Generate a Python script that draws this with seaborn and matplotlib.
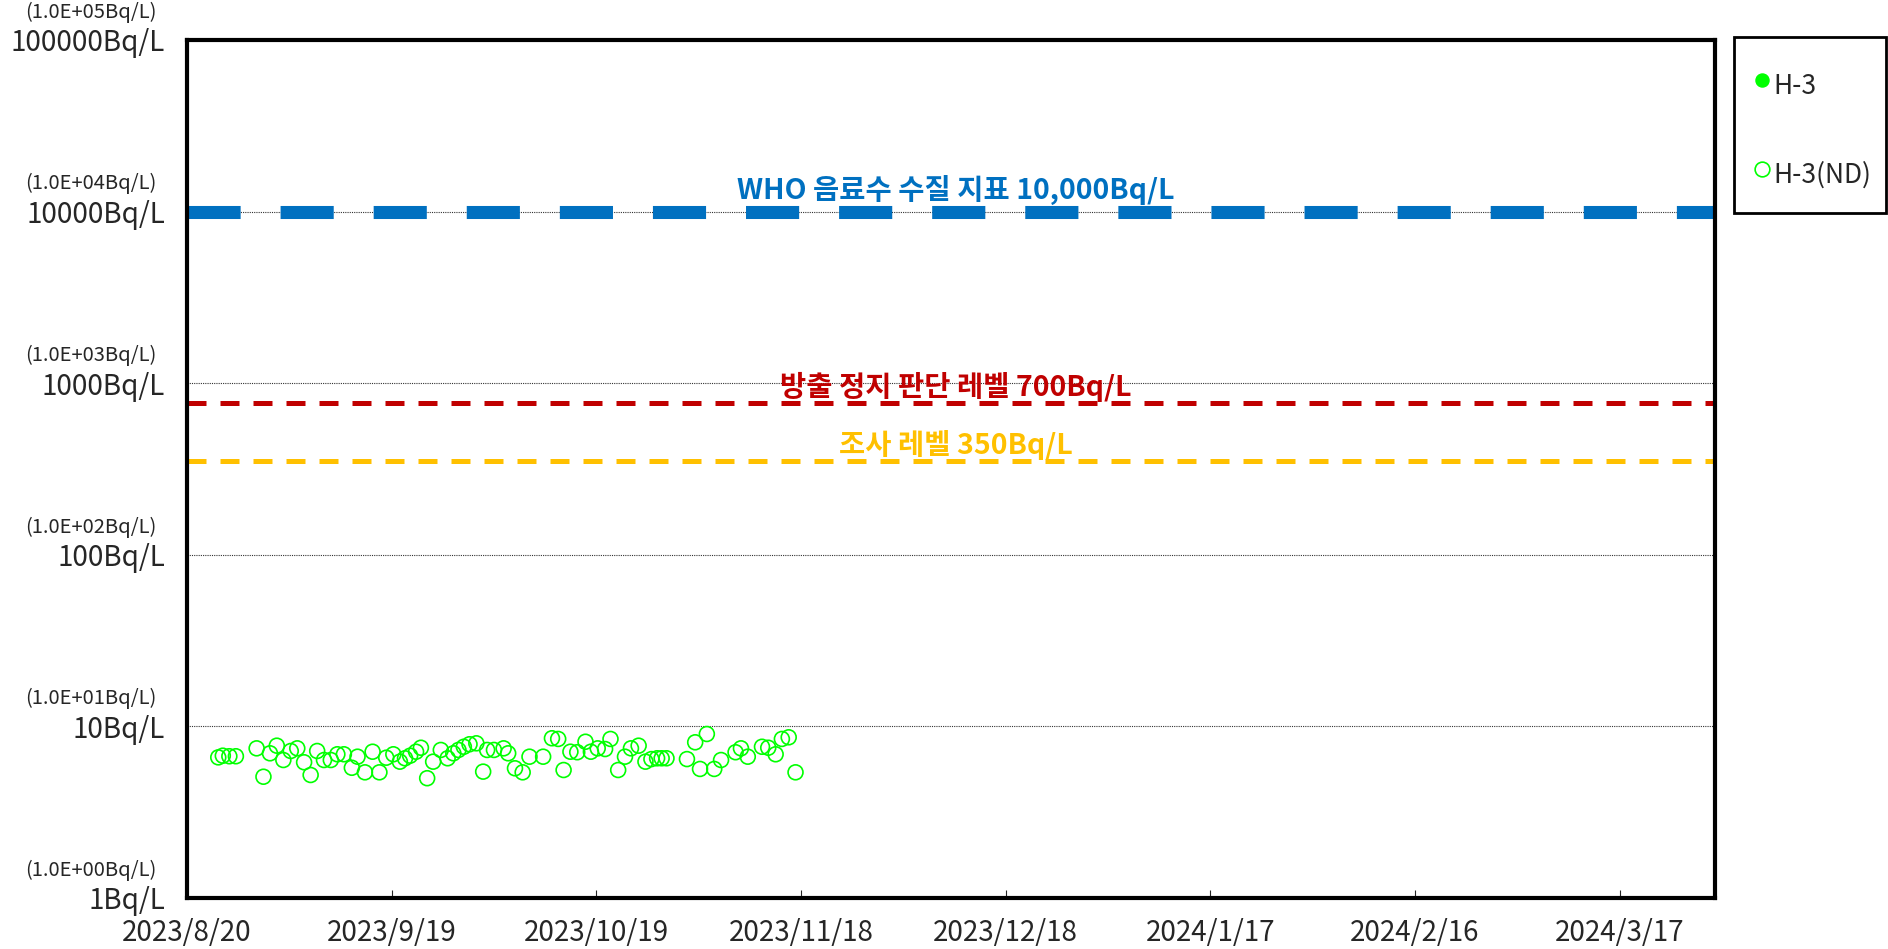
import pandas as pd
import seaborn as sns
import matplotlib.pyplot as plt
from matplotlib.lines import Line2D
from matplotlib.patches import Rectangle

# H-3 seawater results (all below detection limit -> ND)
sample_times = [
    '2023-08-24 14:00', '2023-08-25 06:00', '2023-08-26 05:00', '2023-08-27 04:00',
    '2023-08-30 05:00', '2023-08-31 05:00', '2023-09-01 04:00', '2023-09-02 04:00',
    '2023-09-03 03:00', '2023-09-04 05:00', '2023-09-05 04:00', '2023-09-06 04:00',
    '2023-09-07 03:00', '2023-09-08 02:00', '2023-09-09 02:00', '2023-09-10 02:00',
    '2023-09-11 01:00', '2023-09-12 00:00', '2023-09-13 04:00', '2023-09-14 00:00',
    '2023-09-15 02:00', '2023-09-16 05:00', '2023-09-17 05:00', '2023-09-18 05:00',
    '2023-09-19 06:00', '2023-09-20 05:00', '2023-09-20 23:00', '2023-09-21 17:00',
    '2023-09-22 14:00', '2023-09-23 07:00', '2023-09-24 05:00', '2023-09-25 02:00',
    '2023-09-26 05:00', '2023-09-27 05:00', '2023-09-28 01:00', '2023-09-28 19:00',
    '2023-09-29 14:00', '2023-09-30 10:00', '2023-10-01 10:00', '2023-10-02 10:00',
    '2023-10-03 00:00', '2023-10-04 00:00', '2023-10-05 10:00', '2023-10-06 02:00',
    '2023-10-07 02:00', '2023-10-08 05:00', '2023-10-09 05:00', '2023-10-11 05:00',
    '2023-10-12 12:00', '2023-10-13 10:00', '2023-10-14 05:00', '2023-10-15 05:00',
    '2023-10-16 05:00', '2023-10-17 10:00', '2023-10-18 05:00', '2023-10-19 05:00',
    '2023-10-20 07:00', '2023-10-21 02:00', '2023-10-22 05:00', '2023-10-23 05:00',
    '2023-10-24 02:00', '2023-10-25 05:00', '2023-10-26 05:00', '2023-10-27 02:00',
    '2023-10-27 22:00', '2023-10-28 14:00', '2023-10-29 07:00', '2023-11-01 07:00',
    '2023-11-02 12:00', '2023-11-03 05:00', '2023-11-04 05:00', '2023-11-05 07:00',
    '2023-11-06 07:00', '2023-11-08 10:00', '2023-11-09 05:00', '2023-11-10 05:00',
    '2023-11-12 07:00', '2023-11-13 05:00', '2023-11-14 07:00', '2023-11-15 05:00',
    '2023-11-16 05:00', '2023-11-17 05:00',
]
h3_nd = [
    6.6, 6.75, 6.7, 6.7, 7.45, 5.09, 6.97, 7.72, 6.37, 7.19, 7.45, 6.18,
    5.21, 7.19, 6.37, 6.37, 6.88, 6.88, 5.74, 6.66, 5.40, 7.12, 5.40, 6.57,
    6.88, 6.23, 6.52, 6.75, 7.12, 7.51, 4.99, 6.23, 7.29, 6.52, 6.97, 7.29,
    7.61, 7.87, 7.97, 5.45, 7.29, 7.29, 7.45, 6.97, 5.70, 5.40, 6.66, 6.66,
    8.53, 8.45, 5.57, 7.12, 7.07, 8.14, 7.12, 7.45, 7.38, 8.45, 5.57, 6.66,
    7.45, 7.72, 6.23, 6.45, 6.52, 6.52, 6.52, 6.45, 8.08, 5.65, 9.03, 5.65,
    6.37, 7.07, 7.45, 6.66, 7.61, 7.51, 6.88, 8.45, 8.64, 5.40,
]

x_start, x_end = '2023-08-20', '2024-03-31'
x_tick_dates = ['2023-08-20', '2023-09-19', '2023-10-19', '2023-11-18',
                '2023-12-18', '2024-01-17', '2024-02-16', '2024-03-17']
x_tick_labels = ['2023/8/20', '2023/9/19', '2023/10/19', '2023/11/18',
                 '2023/12/18', '2024/1/17', '2024/2/16', '2024/3/17']

y_ticks = [1, 10, 100, 1000, 10000, 100000]
y_tick_labels = ['1Bq/L', '10Bq/L', '100Bq/L', '1000Bq/L', '10000Bq/L', '100000Bq/L']
y_tick_sublabels = ['(1.0E+00Bq/L)', '(1.0E+01Bq/L)', '(1.0E+02Bq/L)',
                    '(1.0E+03Bq/L)', '(1.0E+04Bq/L)', '(1.0E+05Bq/L)']

# reference lines (the 700 line sits a little above 700 in the source chart)
ref_levels = [10000, 770, 350]
ref_labels = ['WHO 음료수 수질 지표 10,000Bq/L', '방출 정지 판단 레벨 700Bq/L', '조사 레벨 350Bq/L']
ref_colors = ['#0070C0', '#C00000', '#FFC000']

green = '#00FF00'

sns.set_style('white')
plt.rcParams['font.family'] = ['Noto Sans CJK JP', 'DejaVu Sans']

df = pd.DataFrame({'time': pd.to_datetime(sample_times), 'value': h3_nd})

W, H = 1888, 949
fig = plt.figure(figsize=(W / 100, H / 100), dpi=100)
ax = fig.add_axes([187 / W, 1 - 898 / H, (1715 - 187) / W, (898 - 40) / H])

ax.set_yscale('log')
ax.set_ylim(1, 100000)
ax.set_xlim(pd.Timestamp(x_start), pd.Timestamp(x_end))

ax.grid(axis='y', which='major', color='#333333', lw=0.8, linestyle=(0, (1, 1)), zorder=0)
ax.set_axisbelow(True)

# reference levels
ax.axhline(ref_levels[0], color=ref_colors[0], lw=9.4, dashes=(4.07, 3.06), zorder=2)
ax.axhline(ref_levels[1], color=ref_colors[1], lw=3.6, dashes=(3.8, 2.8), zorder=2)
ax.axhline(ref_levels[2], color=ref_colors[2], lw=3.6, dashes=(3.8, 2.8), zorder=2)
label_offsets = [15.5, 11, 11.5]
for lvl, lab, col, off in zip(ref_levels, ref_labels, ref_colors, label_offsets):
    ax.annotate(lab, xy=(0.503, lvl), xycoords=('axes fraction', 'data'),
                xytext=(0, off), textcoords='offset points', ha='center', va='center',
                color=col, fontsize=20.5, fontweight='bold',
                family=['Noto Sans CJK KR', 'DejaVu Sans'], zorder=3)

sns.scatterplot(data=df, x='time', y='value', ax=ax, marker='o', s=115,
                facecolors='none', edgecolor=green, linewidth=1.2, zorder=4, legend=False)

# axes frame
for sp in ax.spines.values():
    sp.set_visible(True)
    sp.set_linewidth(3)
    sp.set_color('black')

ax.set_xticks(pd.to_datetime(x_tick_dates))
ax.set_xticklabels(x_tick_labels, fontsize=20)
ax.tick_params(axis='x', direction='in', length=6, width=0.8, pad=14.5, bottom=True)
ax.set_yticks(y_ticks)
ax.set_yticklabels(y_tick_labels, fontsize=20)
ax.yaxis.set_minor_locator(plt.NullLocator())
ax.tick_params(axis='y', length=0, pad=16)
for v, sub in zip(y_ticks, y_tick_sublabels):
    ax.annotate(sub, xy=(0, v), xycoords=('axes fraction', 'data'), xytext=(-22, 20),
                textcoords='offset points', ha='right', va='center', fontsize=14.5,
                annotation_clip=False)
ax.set_xlabel('')
ax.set_ylabel('')

# legend (box drawn separately, like the Excel legend frame)
handles = [
    Line2D([], [], linestyle='none', marker='o', markersize=9.4,
           markerfacecolor=green, markeredgecolor=green),
    Line2D([], [], linestyle='none', marker='o', markersize=10.6,
           markerfacecolor='none', markeredgecolor=green, markeredgewidth=1.2),
]
fig.legend(handles, ['H-3', 'H-3(ND)'], loc='upper left',
           bbox_to_anchor=(1753.5 / W, 1 - 66.5 / H), fontsize=19,
           frameon=False, borderpad=0, borderaxespad=0,
           handlelength=0.65, handletextpad=0.1, handleheight=1.9,
           labelspacing=1.86)
fig.patches.append(Rectangle((1734 / W, 1 - 213 / H), 152 / W, 176 / H,
                             transform=fig.transFigure, fill=False,
                             edgecolor='black', linewidth=2))

fig.savefig('out.png', dpi=100)
